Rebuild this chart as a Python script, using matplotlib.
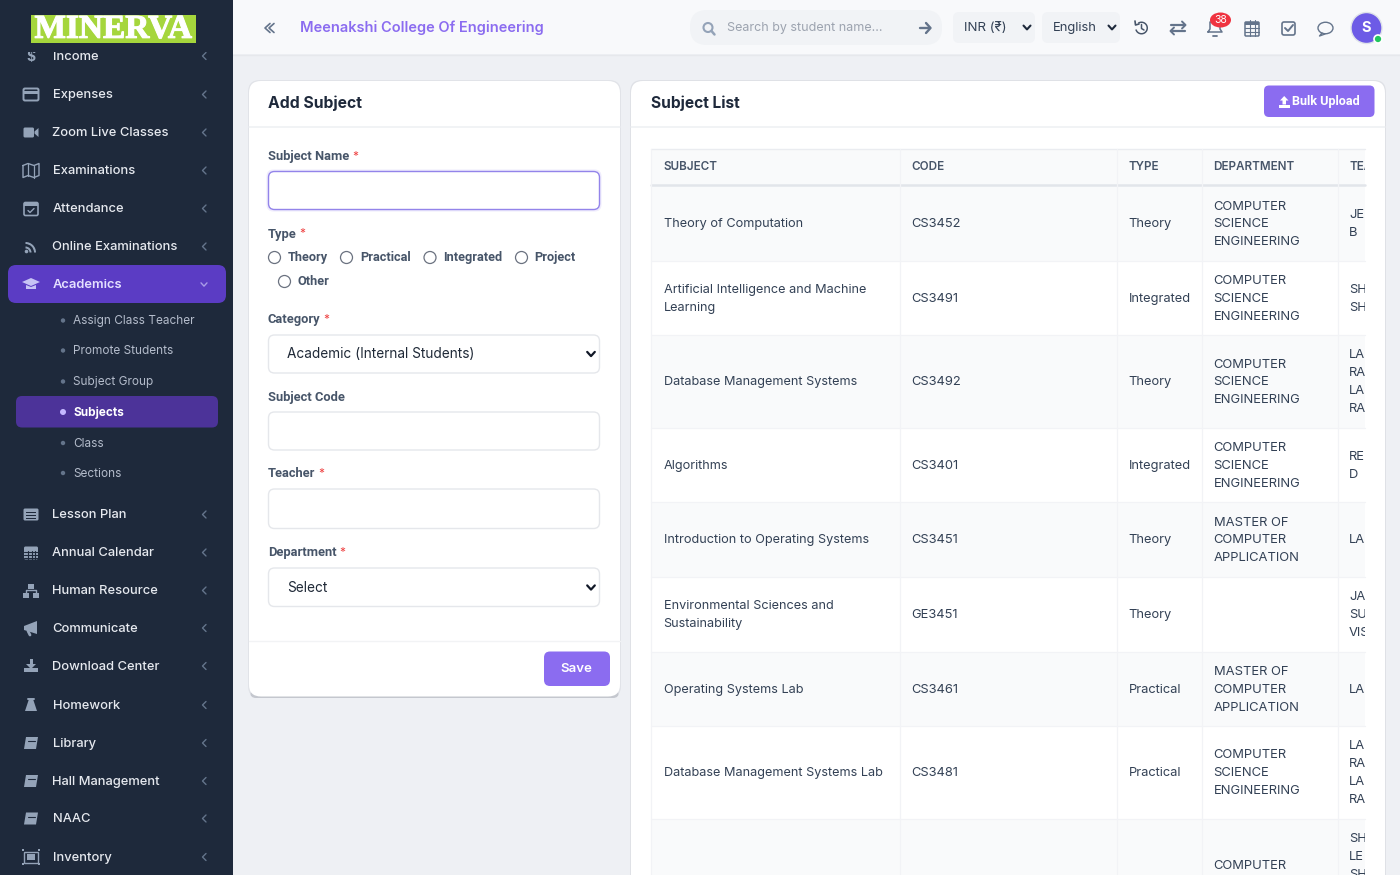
import matplotlib
matplotlib.use("Agg")
import matplotlib.pyplot as plt
import matplotlib.patheffects as pe
from matplotlib.patches import FancyBboxPatch, Rectangle, Circle, Polygon, Wedge, Ellipse

# ---------- content ----------
college_name = "Meenakshi College Of Engineering"
search_hint = "Search by student name..."
currency = "INR (₹)"
language = "English"
badge_count = "38"
avatar_letter = "S"
menu_main = ["Income", "Expenses", "Zoom Live Classes", "Examinations", "Attendance",
             "Online Examinations", "Academics", "Lesson Plan", "Annual Calendar",
             "Human Resource", "Communicate", "Download Center", "Homework", "Library",
             "Hall Management", "NAAC", "Inventory"]
menu_sub = ["Assign Class Teacher", "Promote Students", "Subject Group", "Subjects", "Class", "Sections"]
form_labels = ["Subject Name", "Type", "Category", "Subject Code", "Teacher", "Department"]
radio_options = ["Theory", "Practical", "Integrated", "Project", "Other"]
category_value = "Academic (Internal Students)"
department_value = "Select"
table_headers = ["SUBJECT", "CODE", "TYPE", "DEPARTMENT", "TEA"]
subjects = ["Theory of Computation", "Artificial Intelligence and Machine\nLearning",
            "Database Management Systems", "Algorithms", "Introduction to Operating Systems",
            "Environmental Sciences and\nSustainability", "Operating Systems Lab",
            "Database Management Systems Lab"]
codes = ["CS3452", "CS3491", "CS3492", "CS3401", "CS3451", "GE3451", "CS3461", "CS3481"]
types = ["Theory", "Integrated", "Theory", "Integrated", "Theory", "Theory", "Practical", "Practical"]
CSE = "COMPUTER\nSCIENCE\nENGINEERING"
MCA = "MASTER OF\nCOMPUTER\nAPPLICATION"
departments = [CSE, CSE, CSE, CSE, MCA, "", MCA, CSE]
teachers = ["JE\nB", "SH\nSH", "LA\nRA\nLA\nRA", "RE\nD", "LA", "JA\nSU\nVIS", "LA", "LA\nRA\nLA\nRA"]
last_department = "COMPUTER"
last_teacher = "SH\nLE\nSH"

# ---------- layout ----------
menu_y = [56, 94.5, 132.5, 170.5, 208.5, 246.5, 284, 514.5, 552.5, 590.5, 628, 666, 705, 743, 781, 818.5, 857]
sub_y = [320.5, 350.5, 381.5, 412, 443, 473]
row_edges = [186, 261, 335, 428, 502, 577, 652, 726, 819, 900]
col_edges = [651, 900, 1117, 1202, 1338, 1365]

DARK = "#1e293b"; PURPLE = "#8b6cf0"; ACT = "#5b3cc4"; SUBACT = "#4c3399"
ICON = "#94a3b8"; TXT = "#334155"; LBL = "#475569"; BORDER = "#e5e7eb"

plt.rcParams["font.family"] = ["Inter", "Noto Sans", "DejaVu Sans"]
fig = plt.figure(figsize=(14, 8.75), dpi=100)
ax = fig.add_axes([0, 0, 1, 1])
ax.set_xlim(0, 1400); ax.set_ylim(875, 0); ax.axis("off")

def rrect(x0, y0, x1, y1, r=6, fc="white", ec="none", lw=1, z=1, **kw):
    p = FancyBboxPatch((x0 + r, y0 + r), x1 - x0 - 2 * r, y1 - y0 - 2 * r,
                       boxstyle=f"round,pad={r},rounding_size={r}", fc=fc, ec=ec, lw=lw, zorder=z, **kw)
    ax.add_patch(p); return p

def rect(x0, y0, x1, y1, fc, z=1):
    p = Rectangle((x0, y0), x1 - x0, y1 - y0, fc=fc, ec="none", zorder=z)
    ax.add_patch(p); return p

def line(xs, ys, c=ICON, lw=1.2, z=5, **kw):
    return ax.plot(xs, ys, color=c, lw=lw, zorder=z, solid_capstyle="round", **kw)[0]

def T(x, y, s, size=10, c=TXT, w="normal", ha="left", va="center", z=6, **kw):
    return ax.text(x, y + 0.8, s, fontsize=size, color=c, fontweight=w, ha=ha, va=va, zorder=z, **kw)

def chevron_left(x, y, c="#64748b"):
    line([x + 2, x - 1.5, x + 2], [y - 3.5, y, y + 3.5], c=c, lw=1)

def chevron_down(x, y, c="#1e293b", s=3.5, lw=1.5):
    line([x - s, x, x + s], [y - s * .55, y + s * .55, y - s * .55], c=c, lw=lw)

# ---------- backgrounds ----------
rect(0, 0, 1400, 875, "#eef0f4", 0)
rect(233, 0, 1400, 54, "#f8f9fb", 1)
line([233, 1400], [54.5, 54.5], c="#e6e8ec", lw=1, z=2)
rect(0, 0, 233, 875, DARK, 3)

# ---------- sidebar ----------
rrect(8, 265, 226, 303, r=8, fc=ACT, z=4)
rrect(16, 396, 218, 427.5, r=6, fc=SUBACT, z=4)

def side_icon(i, y):
    x = 31
    if i == 0:
        T(x, y, "$", 10, ICON, "bold", ha="center")
    elif i == 1:
        rrect(x - 7.5, y - 6, x + 7.5, y + 6, r=1.5, fc="none", ec=ICON, lw=1.4, z=5); rect(x - 7, y - 3.5, x + 7, y - .5, ICON, 5)
    elif i == 2:
        rrect(x - 7.5, y - 5, x + 3, y + 5, r=1.5, fc=ICON, z=5)
        ax.add_patch(Polygon([(x + 3.5, y - 1), (x + 7.5, y - 4.5), (x + 7.5, y + 4.5), (x + 3.5, y + 1)], fc=ICON, zorder=5))
    elif i == 3:
        line([x - 8, x - 3, x + 3, x + 8, x + 8, x + 3, x - 3, x - 8, x - 8], [y - 5, y - 7, y - 5, y - 7, y + 5, y + 7, y + 5, y + 7, y - 5], lw=1)
        line([x - 3, x - 3], [y - 7, y + 5], lw=.9); line([x + 3, x + 3], [y - 5, y + 7], lw=.9)
    elif i == 4:
        rrect(x - 7, y - 6, x + 7, y + 7, r=1.5, fc="none", ec=ICON, lw=1.2, z=5); rect(x - 7, y - 6, x + 7, y - 3, ICON, 5)
        line([x - 3, x - 1, x + 3], [y + 2, y + 4, y], lw=1)
    elif i == 5:
        ax.add_patch(Circle((x - 4.5, y + 5), 1.8, fc=ICON, zorder=5))
        for r in (6, 10.5):
            ax.add_patch(Wedge((x - 5.5, y + 6), r, -90, 0, width=2, fc=ICON, zorder=5))
    elif i == 6:
        ax.add_patch(Polygon([(x - 9, y - 2), (x, y - 6), (x + 9, y - 2), (x, y + 2)], fc="#c7c3f5", zorder=5))
        ax.add_patch(Polygon([(x - 5, y + 1), (x, y + 3), (x + 5, y + 1), (x + 5, y + 5), (x - 5, y + 5)], fc="#c7c3f5", zorder=5))
    elif i == 7:
        rrect(x - 7.5, y - 6, x + 7.5, y + 6, r=1.5, fc=ICON, z=5)
        for dy in (-2, 1, 4):
            rect(x - 5, y + dy - .6, x + 5, y + dy + .6, DARK, 6)
    elif i == 8:
        rrect(x - 7, y - 6, x + 7, y + 7, r=1.5, fc=ICON, z=5)
        for dy in (-1, 2, 5):
            line([x - 7, x + 7], [y + dy, y + dy], c=DARK, lw=.8, z=6)
        for dx in (-3, 1, 4):
            line([x + dx, x + dx], [y - 2, y + 7], c=DARK, lw=.8, z=6)
    elif i == 9:
        for dx, dy in ((-3, -7), (-8, 2), (2, 2)):
            rect(x + dx, y + dy, x + dx + 6, y + dy + 5, ICON, 5)
        line([x - 5, x - 5, x + 5, x + 5], [y + 2, y - 1, y - 1, y + 2], lw=1)
    elif i == 10:
        ax.add_patch(Polygon([(x - 7, y - 2), (x + 6, y - 7), (x + 6, y + 6), (x - 7, y + 2)], fc=ICON, zorder=5))
        line([x - 3, x - 1], [y + 3, y + 7], lw=2)
    elif i == 11:
        rect(x - 7, y + 2, x + 7, y + 6, ICON, 5); rect(x - 1.5, y - 7, x + 1.5, y - 1, ICON, 5)
        ax.add_patch(Polygon([(x - 5, y - 2), (x + 5, y - 2), (x, y + 3)], fc=ICON, zorder=5))
    elif i == 12:
        ax.add_patch(Polygon([(x - 2, y - 6), (x + 2, y - 6), (x + 6, y + 6), (x - 6, y + 6)], fc=ICON, zorder=5))
        line([x - 3, x + 3], [y - 6.5, y - 6.5], lw=1.4)
    elif i in (13, 14, 15):
        ax.add_patch(Polygon([(x - 5, y - 6), (x + 7, y - 6), (x + 5, y + 6), (x - 7, y + 6)], fc=ICON, zorder=5))
        line([x - 3, x + 4], [y - 2, y - 2], c=DARK, lw=.8, z=6)
    else:
        rect(x - 7, y - 5.5, x + 7, y + 5.5, "none", 5).set(ec=ICON, lw=1)
        rect(x - 4, y - 3, x + 4, y + 3, ICON, 5)
        for dx in (-8, 8):
            for dy in (-7, 7):
                rect(x + dx - 1.3, y + dy - 1.3, x + dx + 1.3, y + dy + 1.3, ICON, 5)

for i, (name, y) in enumerate(zip(menu_main, menu_y)):
    active = name == "Academics"
    T(52.5, y, name, 9.3, "#e4e0ff" if active else "#e6e9ef", "semibold" if active else "medium")
    side_icon(i, y)
    if active:
        chevron_down(204, y + .5, c="#a99ce8", s=3, lw=1)
    else:
        chevron_left(204, y)
for name, y in zip(menu_sub, sub_y):
    on = name == "Subjects"
    ax.add_patch(Circle((63, y), 3 if on else 2.2, fc="#c4b8ff" if on else "#64748b", ec="none", zorder=6))
    T(73, y, name, 8.5, "#ffffff" if on else "#b4bccb", "bold" if on else "normal")

rect(0, 0, 233, 52, DARK, 7)
rect(31, 15, 196, 43, "#a5d63c", 8)
T(113.5, 28.5, "MINERVA", 24, "white", "bold", ha="center", z=9, family=["Liberation Serif"],
  path_effects=[pe.withStroke(linewidth=0.8, foreground="white")])

# ---------- top bar ----------
line([270, 265, 270], [23.5, 28, 32.5], c="#64748b", lw=1.2)
line([274, 269, 274], [23.5, 28, 32.5], c="#64748b", lw=1.2)
T(299.5, 27, college_name, 10.5, PURPLE, "semibold")
rrect(690, 10, 942, 45, r=17, fc="#f1f3f6")
ax.add_patch(Circle((708, 27.5), 4.5, fc="none", ec="#94a3b8", lw=1.5, zorder=5))
line([711.5, 714.5], [31, 34.5], c="#94a3b8", lw=1.8)
T(727, 27.5, search_hint, 9, "#9ca3af")
line([920, 930], [28, 28], c="#64748b", lw=1.7); line([926, 930.5, 926], [23, 28, 33], c="#64748b", lw=1.7)
rrect(953, 12, 1035, 43, r=6, fc="#f1f3f6"); rrect(1042, 12, 1120, 43, r=6, fc="#f1f3f6")
T(964, 27.5, currency, 9.6, TXT, family=["Inter", "DejaVu Sans"])
chevron_down(1027, 27.5); T(1052.5, 27.5, language, 9.3, TXT); chevron_down(1112, 27.5)
ax.add_patch(Wedge((1141.5, 28), 6.5, -125, 165, width=1.5, fc="#475569", zorder=5))
line([1135, 1135.5, 1139], [21, 25, 24], c="#475569", lw=1.2)
line([1141.5, 1141.5, 1144], [24.5, 28.5, 30], c="#475569", lw=1.1)
for y0, y1, x0, x1 in ((25, 25, 1171, 1185), (31, 31, 1185, 1171)):
    line([x0, x1], [y0, y1], c="#64748b", lw=1.6)
line([1182, 1185.5, 1182], [21.5, 25, 28.5], c="#64748b", lw=1.4)
line([1174, 1170.5, 1174], [27.5, 31, 34.5], c="#64748b", lw=1.4)
line([1208, 1210, 1210, 1220, 1220, 1222, 1208], [32, 29, 22, 22, 29, 32, 32], c="#64748b", lw=1.1)
line([1213, 1217], [35.5, 35.5], c="#64748b", lw=1.3)
ax.add_patch(Ellipse((1220.5, 20), 21, 15, fc="#ef3340", ec="none", zorder=7))
T(1220.5, 19.5, badge_count, 7.5, "white", ha="center", z=8)
rrect(1245, 22, 1259, 36, r=1, fc="none", ec="#64748b", lw=1.1, z=5)
rect(1245, 22, 1259, 25, "#64748b", 5)
for v in (1249.5, 1254.5):
    line([v, v], [19.5, 36], c="#64748b", lw=.8)
for h in (28, 32):
    line([1245, 1259], [h, h], c="#64748b", lw=.8)
rrect(1282, 22, 1295, 35, r=2, fc="none", ec="#64748b", lw=1.2, z=5)
line([1285, 1288, 1293], [28, 31, 25], c="#64748b", lw=1.4)
ax.add_patch(Ellipse((1325.5, 28), 15, 11.5, fc="none", ec="#64748b", lw=1, zorder=5))
line([1322, 1319.5, 1325], [33, 36, 34], c="#64748b", lw=1)
ax.add_patch(Circle((1366.5, 28), 15.5, fc="#6d5be6", ec="#dfe3ea", lw=1, zorder=5))
T(1366.5, 27.5, avatar_letter, 10.5, "white", "bold", ha="center")
ax.add_patch(Circle((1378, 39), 4, fc="#22c55e", ec="white", lw=1.2, zorder=7))

# ---------- cards ----------
rrect(248, 80, 621, 698, r=12, fc="#e1e3e8", z=1)
rrect(250, 690, 619, 698, r=6, fc="#c4c7ce", z=1)
rrect(249, 81, 620, 696.5, r=12, fc="white", z=2)
rrect(630, 80, 1386, 900, r=12, fc="#dfe1e6", z=1)
rrect(631, 81, 1385, 900, r=12, fc="white", z=2)
T(268, 102, "Add Subject", 11.3, "#1e293b", "bold")
T(651, 102, "Subject List", 11.2, "#1e293b", "bold")
line([249, 620], [127, 127], c="#eef0f3", lw=1.1, z=3)
line([631, 1385], [127, 127], c="#eef0f3", lw=1.1, z=3)
line([249, 620], [641, 641], c="#f2f3f5", lw=1, z=3)

fig.canvas.draw()
renderer = fig.canvas.get_renderer()
def form_label(x, y, s, required):
    t = T(x, y, s, 9.3, LBL, "bold", family=["Roboto"])
    if required:
        b = t.get_window_extent(renderer)
        T(b.x1 + 3, y, "*", 8.5, "#ef4444")

for s, y in zip(form_labels, (156, 233.5, 319, 396.5, 473, 552)):
    form_label(268, y, s, s != "Subject Code")

rrect(266.5, 169.5, 601.5, 211.5, r=7, fc="#efecfd", z=3)
rrect(268.5, 171.5, 599.5, 209.5, r=6, fc="white", ec="#9384ea", lw=1.0, z=4)
for y0, y1 in ((335, 373), (412, 450), (489, 528.5), (568, 606.5)):
    rrect(268.5, y0, 599.5, y1, r=6, fc="white", ec="#e5e7eb", lw=1, z=3)
T(287, 353.5, category_value, 9.8, "#1f2937"); chevron_down(591, 354, c="#111827", s=3.8, lw=1.6)
T(287, 587, department_value, 9.8, "#1f2937"); chevron_down(591, 587.5, c="#111827", s=3.8, lw=1.6)

radio_x = [(274.5, 287.5, 257), (346.5, 360, 257), (430, 443.5, 257), (521.5, 534.5, 257), (284.5, 297.5, 281)]
for name, (cx, tx, y) in zip(radio_options, radio_x):
    ax.add_patch(Circle((cx, y + .5), 6, fc="white", ec="#6b7280", lw=.9, zorder=4))
    T(tx, y, name, 9.2, LBL, "bold", family=["Roboto"])

rrect(544, 651.5, 610, 686, r=6, fc=PURPLE, z=4)
T(576.5, 668.5, "Save", 9.5, "white", "semibold", ha="center")
rrect(1264, 85.5, 1374.5, 117, r=5, fc=PURPLE, z=4)
rect(1279, 105, 1289.5, 107.5, "white", 6)
ax.add_patch(Polygon([(1284.2, 96), (1288.5, 100.5), (1286, 100.5), (1286, 104.5), (1282.5, 104.5), (1282.5, 100.5), (1280, 100.5)], fc="white", zorder=6))
T(1292, 100.5, "Bulk Upload", 9.1, "white", "bold", family=["Roboto"])

# ---------- table ----------
tbl_clip = Rectangle((651, 140), 714, 740, transform=ax.transData)
def ct(x, y, s, *a, **k):
    t = T(x, y, s, *a, **k); t.set_clip_path(tbl_clip); t.set_clip_on(True); return t

rect(651, 149, 1365, 185, "#f9fafb", 3)
line([651, 1365], [148.5, 148.5], c="#eaecf0", lw=1, z=4)
line([651, 1365], [185, 185], c="#e2e5ea", lw=1.8, z=4)
for x, h in zip((663.5, 911.5, 1128.5, 1213.5, 1349), table_headers):
    ct(x, 166, h, 8.4, LBL, "semibold")
for i in range(len(row_edges) - 1):
    y0, y1 = row_edges[i], row_edges[i + 1]
    if i % 2 == 0:
        rect(651, y0, 1365, min(y1, 875), "#f9fafb", 3)
    line([651, 1365], [y1, y1], c="#f2f3f6", lw=.9, z=4)
for x in col_edges[:-1]:
    line([x, x], [149, 875], c="#f2f3f6", lw=.9, z=4)

def multi(x, yc, s, step, size=9.2, c=TXT):
    parts = s.split("\n") if s else []
    for j, p in enumerate(parts):
        ct(x, yc + (j - (len(parts) - 1) / 2) * step, p, size, c)

for i in range(8):
    yc = (row_edges[i] + row_edges[i + 1]) / 2
    multi(663.5, yc, subjects[i], 18.4, size=9.15)
    multi(911.5, yc, codes[i], 18, size=9.3)
    multi(1128.5, yc, types[i], 18, size=9.25)
    multi(1213.5, yc, departments[i], 17.8, size=9.35)
    multi(1349, yc, teachers[i], 18, size=9.3)
ct(1213.5, 865, last_department, 9.35, TXT)
multi(1349, 856, last_teacher, 18, size=9.3)

fig.savefig("out.png", dpi=100)
